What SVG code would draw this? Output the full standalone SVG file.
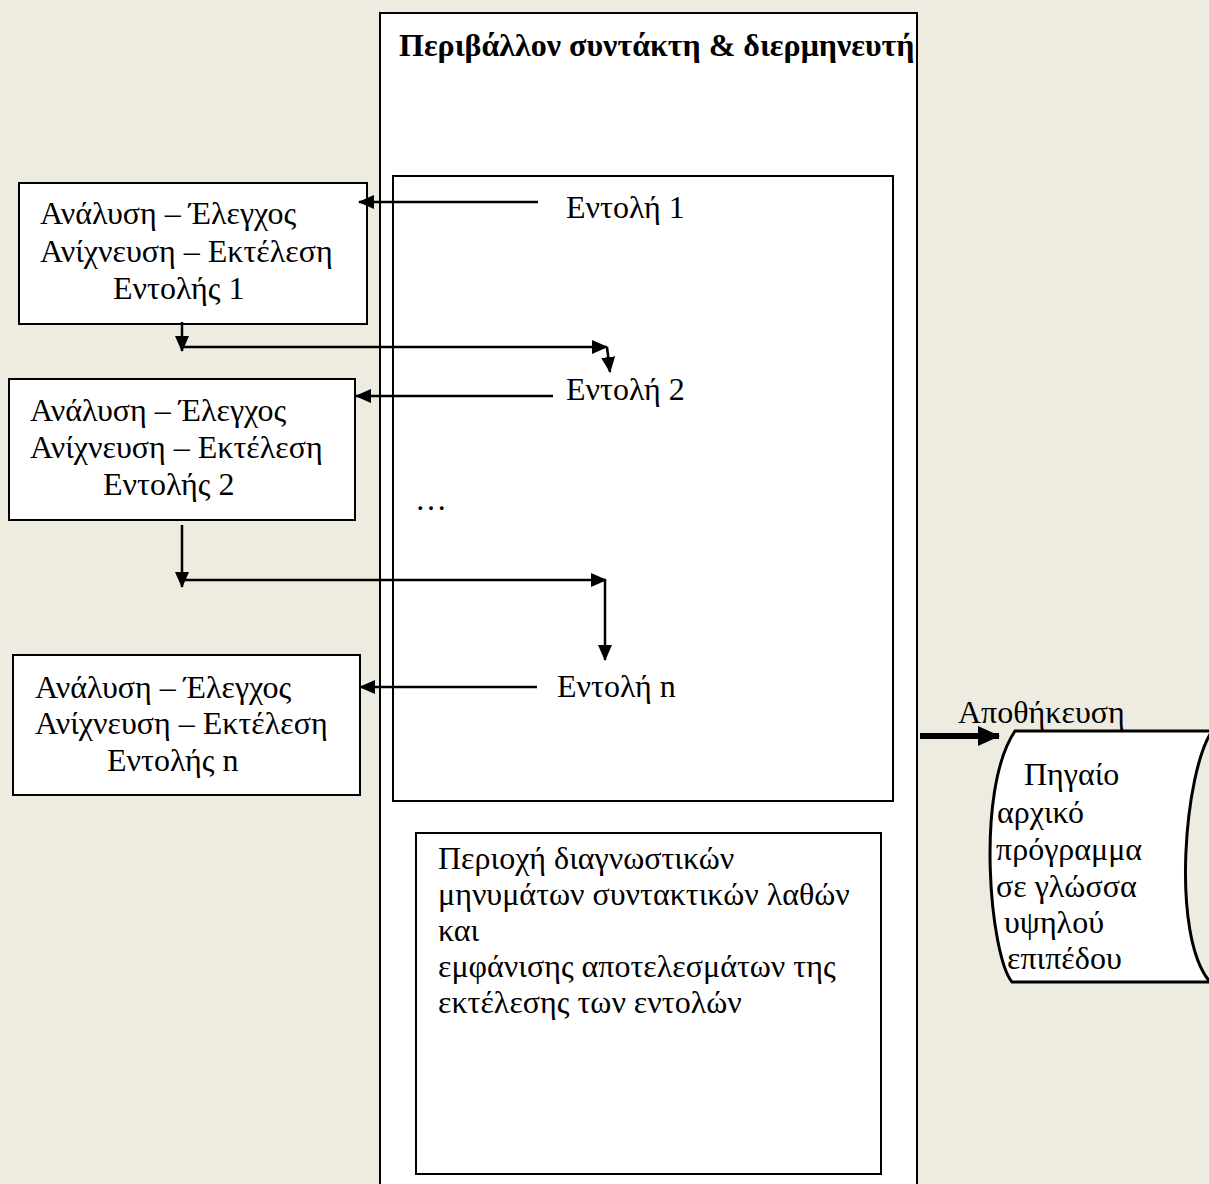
<svg xmlns="http://www.w3.org/2000/svg" width="1209" height="1184" viewBox="0 0 1209 1184">
  <defs>
    <marker id="arrow" markerUnits="userSpaceOnUse" markerWidth="16" markerHeight="14" refX="15" refY="7" orient="auto">
      <path d="M0,0 L16,7 L0,14 Z" fill="#000"/>
    </marker>
    <marker id="arrow-bold" markerUnits="userSpaceOnUse" markerWidth="22" markerHeight="20" refX="21" refY="10" orient="auto">
      <path d="M0,0 L22,10 L0,20 Z" fill="#000"/>
    </marker>
  </defs>
  <style>
    .box { fill: #fff; stroke: #000; stroke-width: 2; }
    .txt { font-family: "Liberation Serif", "DejaVu Serif", serif; font-size: 32px; fill: #000; }
    .title { font-family: "Liberation Serif", "DejaVu Serif", serif; font-size: 32px; font-weight: bold; fill: #000; }
    .conn { fill: none; stroke: #000; stroke-width: 2.5; marker-end: url(#arrow); }
  </style>

  <rect x="0" y="0" width="1209" height="1184" fill="#EEECE1"/>

  <!-- editor & interpreter window -->
  <g id="environment">
    <rect class="box" x="380" y="13" width="537" height="1190"/>
    <text class="title" x="399" y="56">Περιβάλλον συντάκτη &amp; διερμηνευτή</text>
  </g>

  <!-- program statements area -->
  <g id="statements">
    <rect class="box" x="393" y="176" width="500" height="625"/>
    <text class="txt" x="566" y="218">Εντολή 1</text>
    <text class="txt" x="566" y="400">Εντολή 2</text>
    <text class="txt" x="415" y="510">…</text>
    <text class="txt" x="557" y="697">Εντολή n</text>
  </g>

  <!-- diagnostics / results area -->
  <g id="diagnostics">
    <rect class="box" x="416" y="833" width="465" height="341"/>
    <text class="txt" x="438" y="869">Περιοχή διαγνωστικών</text>
    <text class="txt" x="438" y="905">μηνυμάτων συντακτικών λαθών</text>
    <text class="txt" x="438" y="941">και</text>
    <text class="txt" x="438" y="977">εμφάνισης αποτελεσμάτων της</text>
    <text class="txt" x="438" y="1013">εκτέλεσης των εντολών</text>
  </g>

  <!-- per-statement processing steps -->
  <g id="step1">
    <rect class="box" x="19" y="183" width="348" height="141"/>
    <text class="txt" x="40" y="224">Ανάλυση – Έλεγχος</text>
    <text class="txt" x="40" y="262">Ανίχνευση – Εκτέλεση</text>
    <text class="txt" x="113" y="299">Εντολής 1</text>
  </g>

  <g id="step2">
    <rect class="box" x="9" y="379" width="346" height="141"/>
    <text class="txt" x="30" y="421">Ανάλυση – Έλεγχος</text>
    <text class="txt" x="30" y="458">Ανίχνευση – Εκτέλεση</text>
    <text class="txt" x="103" y="495">Εντολής 2</text>
  </g>

  <g id="stepn">
    <rect class="box" x="13" y="655" width="347" height="140"/>
    <text class="txt" x="35" y="698">Ανάλυση – Έλεγχος</text>
    <text class="txt" x="35" y="734">Ανίχνευση – Εκτέλεση</text>
    <text class="txt" x="107" y="771">Εντολής n</text>
  </g>

  <!-- stored source program (punched tape) -->
  <g id="source">
    <path d="M1015,731 L1212,731 C1185,770 1170,935 1210,982 L1012,982 C990,955 975,790 1015,731 Z" fill="#fff" stroke="#000" stroke-width="3"/>
    <text class="txt" x="1024" y="785">Πηγαίο</text>
    <text class="txt" x="997" y="823">αρχικό</text>
    <text class="txt" x="996" y="860">πρόγραμμα</text>
    <text class="txt" x="996" y="897">σε γλώσσα</text>
    <text class="txt" x="1004" y="933">υψηλού</text>
    <text class="txt" x="1007" y="969">επιπέδου</text>
  </g>

  <g id="store-label">
    <text class="txt" x="958" y="723">Αποθήκευση</text>
  </g>

  <g id="connectors">
    <line class="conn" x1="538" y1="202" x2="359" y2="202"/>
    <line class="conn" x1="182" y1="322" x2="182" y2="351"/>
    <line class="conn" x1="182" y1="347" x2="607" y2="347"/>
    <line class="conn" x1="607" y1="347" x2="610" y2="372"/>
    <line class="conn" x1="553" y1="396" x2="356" y2="396"/>
    <line class="conn" x1="182" y1="525" x2="182" y2="587"/>
    <line class="conn" x1="182" y1="580" x2="606" y2="580"/>
    <line class="conn" x1="605" y1="580" x2="605" y2="660"/>
    <line class="conn" x1="537" y1="687" x2="360" y2="687"/>
    <line x1="920" y1="736" x2="999" y2="736" stroke="#000" stroke-width="6" marker-end="url(#arrow-bold)"/>
  </g>
</svg>
